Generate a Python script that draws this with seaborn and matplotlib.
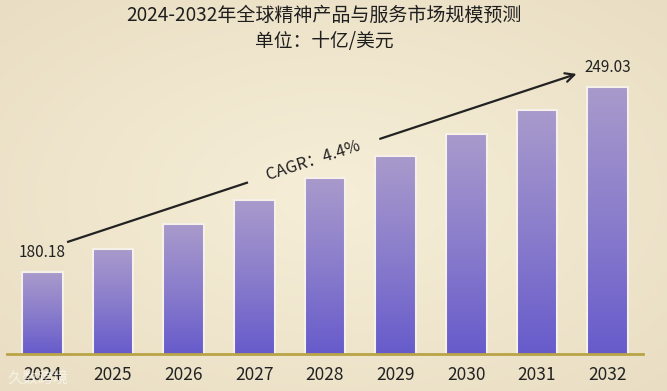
import numpy as np
import pandas as pd
import seaborn as sns
import matplotlib.pyplot as plt
from matplotlib.colors import LinearSegmentedColormap

# data
years = ["2024", "2025", "2026", "2027", "2028", "2029", "2030", "2031", "2032"]
values = [180.18, 188.7, 198.0, 206.9, 215.1, 223.2, 231.4, 240.3, 249.03]
title = "2024-2032年全球精神产品与服务市场规模预测"
unit = "单位：十亿/美元"
cagr_text = "CAGR：4.4%"

sns.set_theme(style="white")
plt.rcParams["font.family"] = ["Noto Sans CJK SC", "DejaVu Sans"]

W, H = 667, 391
fig = plt.figure(figsize=(W / 100, H / 100), dpi=100)

# beige background, lighter in the middle
bg = fig.add_axes([0, 0, 1, 1])
yy, xx = np.mgrid[-1:1:200j, -1:1:340j]
r = np.clip(np.sqrt(xx ** 2 + yy ** 2) / 1.4, 0, 1)
c_in = np.array([0.965, 0.933, 0.847])
c_out = np.array([0.915, 0.872, 0.765])
img = c_in[None, None, :] * (1 - r[..., None]) + c_out[None, None, :] * r[..., None]
bg.imshow(img, aspect="auto", extent=[0, 1, 0, 1])
bg.axis("off")

ylo, yhi = 149.74, 258.9
ax = fig.add_axes([7 / W, 37 / H, 636 / W, (354 - 60) / H])
ax.patch.set_alpha(0)

df = pd.DataFrame({"year": years, "value": values})
sns.barplot(data=df, x="year", y="value", ax=ax, width=0.58, color="#8a7fcc",
            edgecolor="#f5f0e8", linewidth=1.5)

# vertical gradient inside each bar
cmap = LinearSegmentedColormap.from_list("bar", ["#675bcb", "#8a7dcc", "#a99acb"])
grad = np.linspace(0, 1, 256).reshape(-1, 1)
for p in ax.patches:
    x0, w, h = p.get_x(), p.get_width(), p.get_height()
    p.set_facecolor("none")
    ax.imshow(grad, extent=[x0, x0 + w, ylo, h], origin="lower", cmap=cmap,
              aspect="auto", zorder=0.9)

ax.set_xlim(-0.5, 8.5)
ax.set_ylim(ylo, yhi)
ax.set_xlabel("")
ax.set_ylabel("")
ax.set_yticks([])
for s in ["top", "right", "left"]:
    ax.spines[s].set_visible(False)
ax.spines["bottom"].set_color("#b9a446")
ax.spines["bottom"].set_linewidth(2)
ax.spines["bottom"].set_zorder(3)
ax.tick_params(axis="x", length=0, pad=9, labelsize=12.5, labelcolor="#222222")

# value labels on first and last bars
for i in [0, len(values) - 1]:
    ax.annotate(f"{values[i]:.2f}", (i, values[i]), xytext=(0, 14), textcoords="offset points",
                ha="center", va="center", fontsize=11, color="#222222")

# CAGR arrow, broken by the label
n = len(values) - 1
x_s, y_s = 0.35, values[0] + 11.1
x_e, y_e = n - 0.44, values[-1] + 4.7
slope = (y_e - y_s) / (x_e - x_s)
x_g1, x_g2 = 2.91, 4.78
ax.plot([x_s, x_g1], [y_s, y_s + slope * (x_g1 - x_s)], color="#222222", lw=1.6,
        solid_capstyle="butt")
ax.annotate("", xy=(x_e, y_e), xytext=(x_g2, y_s + slope * (x_g2 - x_s)),
            arrowprops=dict(arrowstyle="->", color="#222222", lw=1.6,
                            mutation_scale=16, shrinkA=0, shrinkB=0))
x_t = 3.84
ax.text(x_t, y_s + slope * (x_t - x_s), cagr_text, rotation=18, ha="center", va="center",
        rotation_mode="anchor", fontsize=12, color="#222222")

fig.text(324 / W, 1 - 15 / H, title, ha="center", va="center", fontsize=13.7, color="#1e1e1e")
fig.text(324 / W, 1 - 42 / H, unit, ha="center", va="center", fontsize=13.5, color="#1e1e1e")

# faint watermark bottom-left
fig.text(8 / W, 1 - 378 / H, "久数跨境", ha="left", va="center", fontsize=11,
         color="white", alpha=0.6)

fig.savefig("out.png", dpi=100)
